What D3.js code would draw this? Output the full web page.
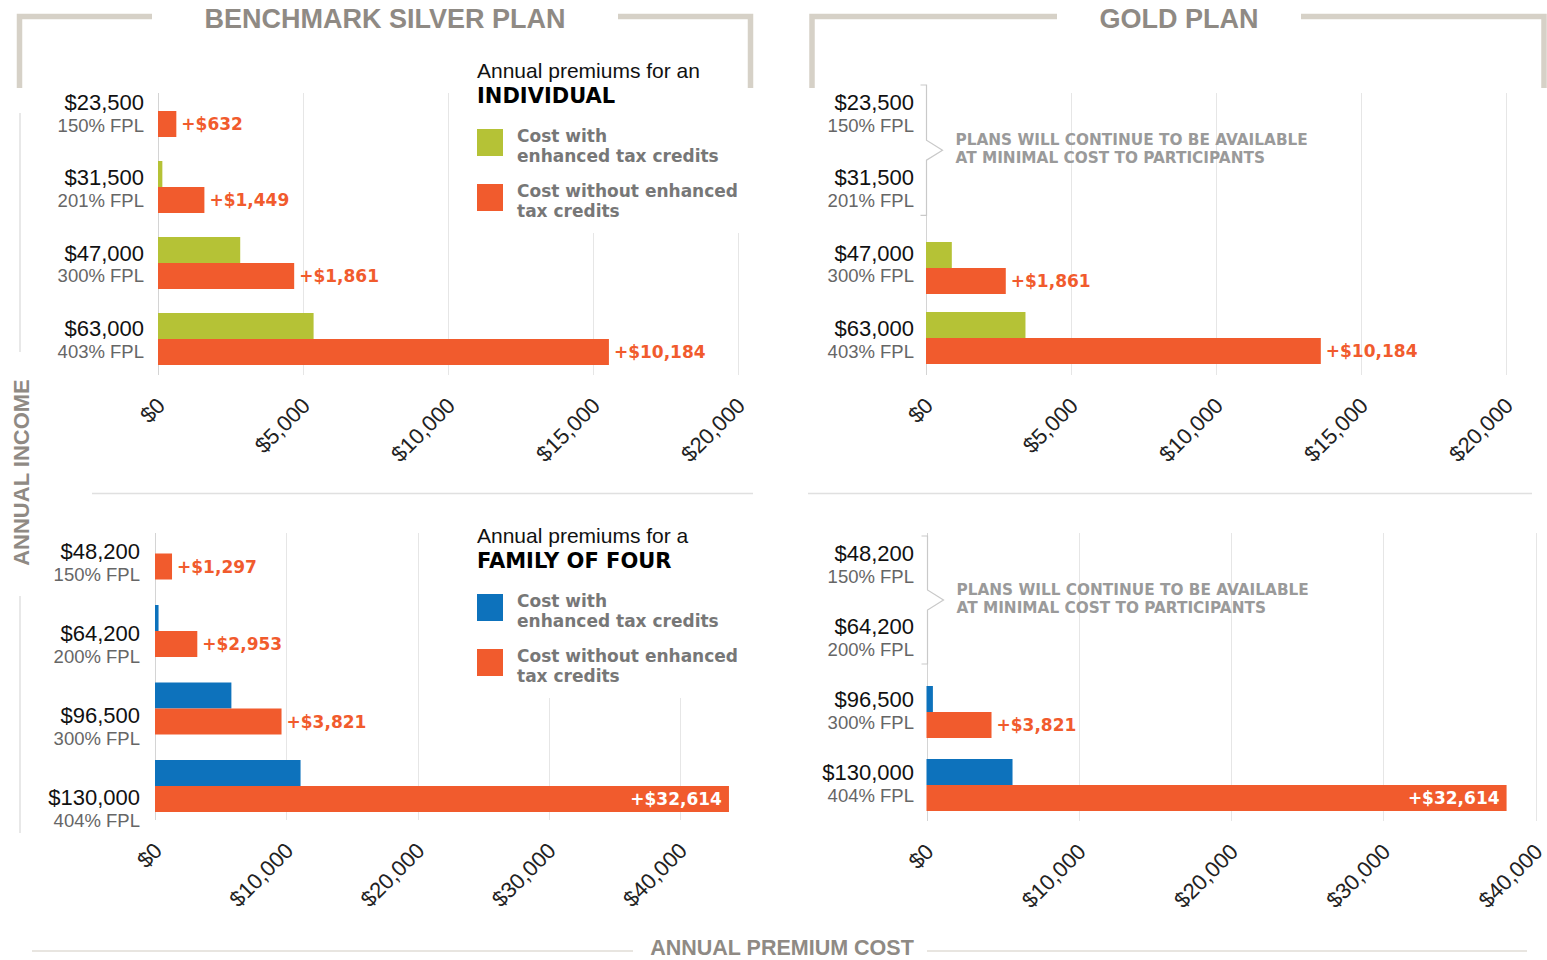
<!DOCTYPE html>
<html>
<head>
<meta charset="utf-8">
<script src="https://cdn.jsdelivr.net/npm/d3@7"></script>
<style>
  body { margin: 0; background: #fff; }
  svg { display: block; }
</style>
</head>
<body>
<div id="chart"></div>
<script>
// income rows (tick labels on the left)
const individualIncome = ["$23,500", "$31,500", "$47,000", "$63,000"];
const individualFpl = ["150% FPL", "201% FPL", "300% FPL", "403% FPL"];
const familyIncome = ["$48,200", "$64,200", "$96,500", "$130,000"];
const familyFpl = ["150% FPL", "200% FPL", "300% FPL", "404% FPL"];

// annual premiums in dollars
const silverIndividualWith = [0, 150, 2835, 5365];
const silverIndividualWithout = [632, 1600, 4696, 15549];
const silverIndividualIncrease = ["+$632", "+$1,449", "+$1,861", "+$10,184"];

const goldIndividualWith = [null, null, 890, 3430];
const goldIndividualWithout = [null, null, 2751, 13614];
const goldIndividualIncrease = [null, null, "+$1,861", "+$10,184"];

const silverFamilyWith = [0, 270, 5820, 11090];
const silverFamilyWithout = [1297, 3223, 9640, 43730];
const silverFamilyIncrease = ["+$1,297", "+$2,953", "+$3,821", "+$32,614"];

const goldFamilyWith = [null, null, 420, 5650];
const goldFamilyWithout = [null, null, 4270, 38100];
const goldFamilyIncrease = [null, null, "+$3,821", "+$32,614"];

const individualTicks = [0, 5000, 10000, 15000, 20000];
const familyTicks = [0, 10000, 20000, 30000, 40000];

const planTitles = ["BENCHMARK SILVER PLAN", "GOLD PLAN"];
const legendIntro = ["Annual premiums for an", "Annual premiums for a"];
const legendHeads = ["INDIVIDUAL", "FAMILY OF FOUR"];
const legendWith = ["Cost with", "enhanced tax credits"];
const legendWithout = ["Cost without enhanced", "tax credits"];
const minimalNote = ["PLANS WILL CONTINUE TO BE AVAILABLE", "AT MINIMAL COST TO PARTICIPANTS"];

const GREEN = "#b5c236", ORANGE = "#f15b2d", BLUE = "#0d72bc";
const ARIAL = '"Liberation Sans", Arial, sans-serif';
const HEAVY = '"DejaVu Sans", Verdana, sans-serif';
const TAN = "#d6d1c7", TITLE_GRAY = "#8f8a84";

const svg = d3.select("#chart").append("svg")
    .attr("width", 1547)
    .attr("height", 960);

const panels = [
  { income: individualIncome, fpl: individualFpl, withC: silverIndividualWith, without: silverIndividualWithout,
    increase: silverIndividualIncrease, ticks: individualTicks, color: GREEN,
    xRange: [158, 738], band: [73, 377], padIn: 24 / 76, padOut: 12 / 76,
    grid: [93, 375], labelRange: [102, 328], labelX: 144, legend: 0, legendY: 70 },
  { income: individualIncome, fpl: individualFpl, withC: goldIndividualWith, without: goldIndividualWithout,
    increase: goldIndividualIncrease, ticks: individualTicks, color: GREEN,
    xRange: [926, 1506], band: [93, 373], padIn: 18 / 70, padOut: 9 / 70,
    grid: [93, 375], labelRange: [102, 328], labelX: 914 },
  { income: familyIncome, fpl: familyFpl, withC: silverFamilyWith, without: silverFamilyWithout,
    increase: silverFamilyIncrease, ticks: familyTicks, color: BLUE,
    xRange: [155, 680], band: [514.75, 824.75], padIn: 25.5 / 77.5, padOut: 12.75 / 77.5,
    grid: [533, 820], labelRange: [551, 797], labelX: 140, legend: 1, legendY: 535 },
  { income: familyIncome, fpl: familyFpl, withC: goldFamilyWith, without: goldFamilyWithout,
    increase: goldFamilyIncrease, ticks: familyTicks, color: BLUE,
    xRange: [926.5, 1535.5], band: [529.5, 821.5], padIn: 21 / 73, padOut: 10.5 / 73,
    grid: [533, 821], labelRange: [553, 772], labelX: 914 }
];

panels.forEach(drawPanel);

function drawPanel(p) {
  const x = d3.scaleLinear().domain([0, d3.max(p.ticks)]).range(p.xRange);
  const y = d3.scaleBand().domain(p.income).range(p.band)
      .paddingInner(p.padIn).paddingOuter(p.padOut);
  const sub = d3.scaleBand().domain(["with", "without"]).range([0, y.bandwidth()]);
  const labelY = d3.scalePoint().domain(p.income).range(p.labelRange);

  const rows = p.income.map((d, i) => ({
    income: d, fpl: p.fpl[i], withC: p.withC[i], without: p.without[i], inc: p.increase[i]
  }));

  const g = svg.append("g");

  // grid
  g.append("g").selectAll("line")
    .data(p.ticks)
    .join("line")
      .attr("x1", d => Math.round(x(d)) + 0.5)
      .attr("x2", d => Math.round(x(d)) + 0.5)
      .attr("y1", p.grid[0])
      .attr("y2", p.grid[1])
      .attr("stroke", d => d === 0 ? "#d4d4d4" : "#e6e6e6")
      .attr("stroke-width", 1);

  // legend sits on a white card over the grid
  if (p.legend !== undefined) {
    const ly = p.legendY;
    g.append("rect")
      .attr("x", 465).attr("y", ly - 18)
      .attr("width", 295).attr("height", 181)
      .attr("fill", "#fff");
    const lg = g.append("g").attr("transform", "translate(477," + ly + ")");
    lg.append("text")
      .attr("y", 0).attr("dy", "0.36em")
      .attr("font-family", ARIAL).attr("font-size", 21).attr("fill", "#111")
      .text(legendIntro[p.legend]);
    lg.append("text")
      .attr("y", 25).attr("dy", "0.36em")
      .attr("font-family", HEAVY).attr("font-weight", "bold").attr("font-size", 21).attr("fill", "#000")
      .text(legendHeads[p.legend]);

    const items = lg.selectAll(".item")
      .data([{ c: p.color, lines: legendWith }, { c: ORANGE, lines: legendWithout }])
      .join("g")
        .attr("class", "item")
        .attr("transform", (d, i) => "translate(0," + (59 + i * 55) + ")");
    items.append("rect")
      .attr("width", 26).attr("height", 27)
      .attr("fill", d => d.c);
    items.selectAll("text")
      .data(d => d.lines)
      .join("text")
        .attr("x", 40)
        .attr("y", (d, i) => 7 + i * 20)
        .attr("dy", "0.36em")
        .attr("font-family", HEAVY).attr("font-weight", "bold")
        .attr("font-size", 17).attr("fill", "#777")
        .text(d => d);
  }

  // bars
  const bars = rows.filter(r => r.without != null);
  g.append("g").selectAll("rect")
    .data(bars)
    .join("rect")
      .attr("x", x(0))
      .attr("y", d => y(d.income) + sub("with"))
      .attr("width", d => x(d.withC) - x(0))
      .attr("height", sub.bandwidth())
      .attr("fill", p.color);
  g.append("g").selectAll("rect")
    .data(bars)
    .join("rect")
      .attr("x", x(0))
      .attr("y", d => y(d.income) + sub("without"))
      .attr("width", d => x(d.without) - x(0))
      .attr("height", sub.bandwidth())
      .attr("fill", ORANGE);

  // increase labels
  g.append("g").selectAll("text")
    .data(bars)
    .join("text")
      .each(function(d) {
        const inside = x(d.without) + 100 > p.xRange[1];
        d3.select(this)
          .attr("x", inside ? x(d.without) - 7 : x(d.without) + 5)
          .attr("text-anchor", inside ? "end" : "start")
          .attr("fill", inside ? "#fff" : ORANGE);
      })
      .attr("y", d => y(d.income) + sub("without") + sub.bandwidth() / 2)
      .attr("dy", "0.36em")
      .attr("font-family", HEAVY).attr("font-weight", "bold").attr("font-size", 17)
      .text(d => d.inc);

  // row labels
  const lab = g.append("g").selectAll("g")
    .data(rows)
    .join("g")
      .attr("transform", d => "translate(" + p.labelX + "," + labelY(d.income) + ")");
  lab.append("text")
    .attr("text-anchor", "end").attr("dy", "0.36em")
    .attr("font-family", ARIAL).attr("font-size", 22).attr("fill", "#111")
    .text(d => d.income);
  lab.append("text")
    .attr("text-anchor", "end").attr("y", 23).attr("dy", "0.36em")
    .attr("font-family", ARIAL).attr("font-size", 18.5).attr("fill", "#666")
    .text(d => d.fpl);

  // bracket for the rows without bars
  const empty = rows.filter(r => r.without == null);
  if (empty.length) {
    const top = labelY(empty[0].income) - 17;
    const bottom = labelY(empty[empty.length - 1].income) + 23 + 15;
    const mid = (top + bottom) / 2;
    const bx = Math.round(x(0)) + 0.5;
    g.append("path")
      .attr("d", "M" + (bx - 6) + "," + top + "H" + bx + "V" + (mid - 10) +
                 "L" + (bx + 16) + "," + mid + "L" + bx + "," + (mid + 10) +
                 "V" + bottom + "H" + (bx - 6))
      .attr("fill", "#fff").attr("stroke", "#c9c9c9").attr("stroke-width", 1.2);
    g.append("g").selectAll("text")
      .data(minimalNote)
      .join("text")
        .attr("x", bx + 29)
        .attr("y", (d, i) => mid - 11 + i * 18)
        .attr("dy", "0.36em")
        .attr("font-family", HEAVY).attr("font-weight", "bold")
        .attr("font-size", 15.3).attr("fill", "#9a9a9a")
        .text(d => d);
  }

  // x axis, rotated dollar labels
  const ax = g.append("g")
      .attr("transform", "translate(0," + p.grid[1] + ")")
      .call(d3.axisBottom(x).tickValues(p.ticks).tickSize(0)
              .tickFormat(d => "$" + d3.format(",")(d)));
  ax.select(".domain").remove();
  ax.selectAll("text")
      .attr("x", 0).attr("y", 0).attr("dy", 0)
      .attr("text-anchor", "end")
      .attr("transform", "translate(8,32) rotate(-45)")
      .attr("font-family", ARIAL).attr("font-size", 22).attr("fill", "#222");
}

// plan frames and titles
const frames = [
  { left: 19.5, right: 750.5, gapL: 152, gapR: 618, cx: 385 },
  { left: 812, right: 1544, gapL: 1057, gapR: 1301, cx: 1179 }
];
svg.append("g").selectAll("path")
  .data(frames)
  .join("path")
    .attr("d", d => "M" + d.left + ",88V16.5H" + d.gapL + "M" + d.gapR + ",16.5H" + d.right + "V88")
    .attr("fill", "none").attr("stroke", TAN).attr("stroke-width", 5.5);
svg.append("g").selectAll("text")
  .data(frames)
  .join("text")
    .attr("x", d => d.cx).attr("y", 28)
    .attr("text-anchor", "middle")
    .attr("font-family", ARIAL).attr("font-weight", "bold").attr("font-size", 27)
    .attr("fill", TITLE_GRAY)
    .text((d, i) => planTitles[i]);

// separators between individual and family rows
svg.append("g").selectAll("line")
  .data([[92, 753], [808, 1532]])
  .join("line")
    .attr("x1", d => d[0]).attr("x2", d => d[1])
    .attr("y1", 493.5).attr("y2", 493.5)
    .attr("stroke", "#e0e0e0").attr("stroke-width", 1.5);

// axis titles
svg.append("g").selectAll("line")
  .data([[113, 352], [596, 833]])
  .join("line")
    .attr("x1", 20).attr("x2", 20)
    .attr("y1", d => d[0]).attr("y2", d => d[1])
    .attr("stroke", "#e0e0e0").attr("stroke-width", 1.5);
svg.append("text")
  .attr("transform", "translate(29,472.5) rotate(-90)")
  .attr("text-anchor", "middle")
  .attr("font-family", ARIAL).attr("font-weight", "bold").attr("font-size", 22)
  .attr("fill", TITLE_GRAY)
  .text("ANNUAL INCOME");

svg.append("g").selectAll("line")
  .data([[32, 633], [927, 1527]])
  .join("line")
    .attr("x1", d => d[0]).attr("x2", d => d[1])
    .attr("y1", 951).attr("y2", 951)
    .attr("stroke", "#e0dcd6").attr("stroke-width", 1.5);
svg.append("text")
  .attr("x", 782).attr("y", 955)
  .attr("text-anchor", "middle")
  .attr("font-family", ARIAL).attr("font-weight", "bold").attr("font-size", 21.5)
  .attr("fill", TITLE_GRAY)
  .text("ANNUAL PREMIUM COST");
</script>
</body>
</html>
